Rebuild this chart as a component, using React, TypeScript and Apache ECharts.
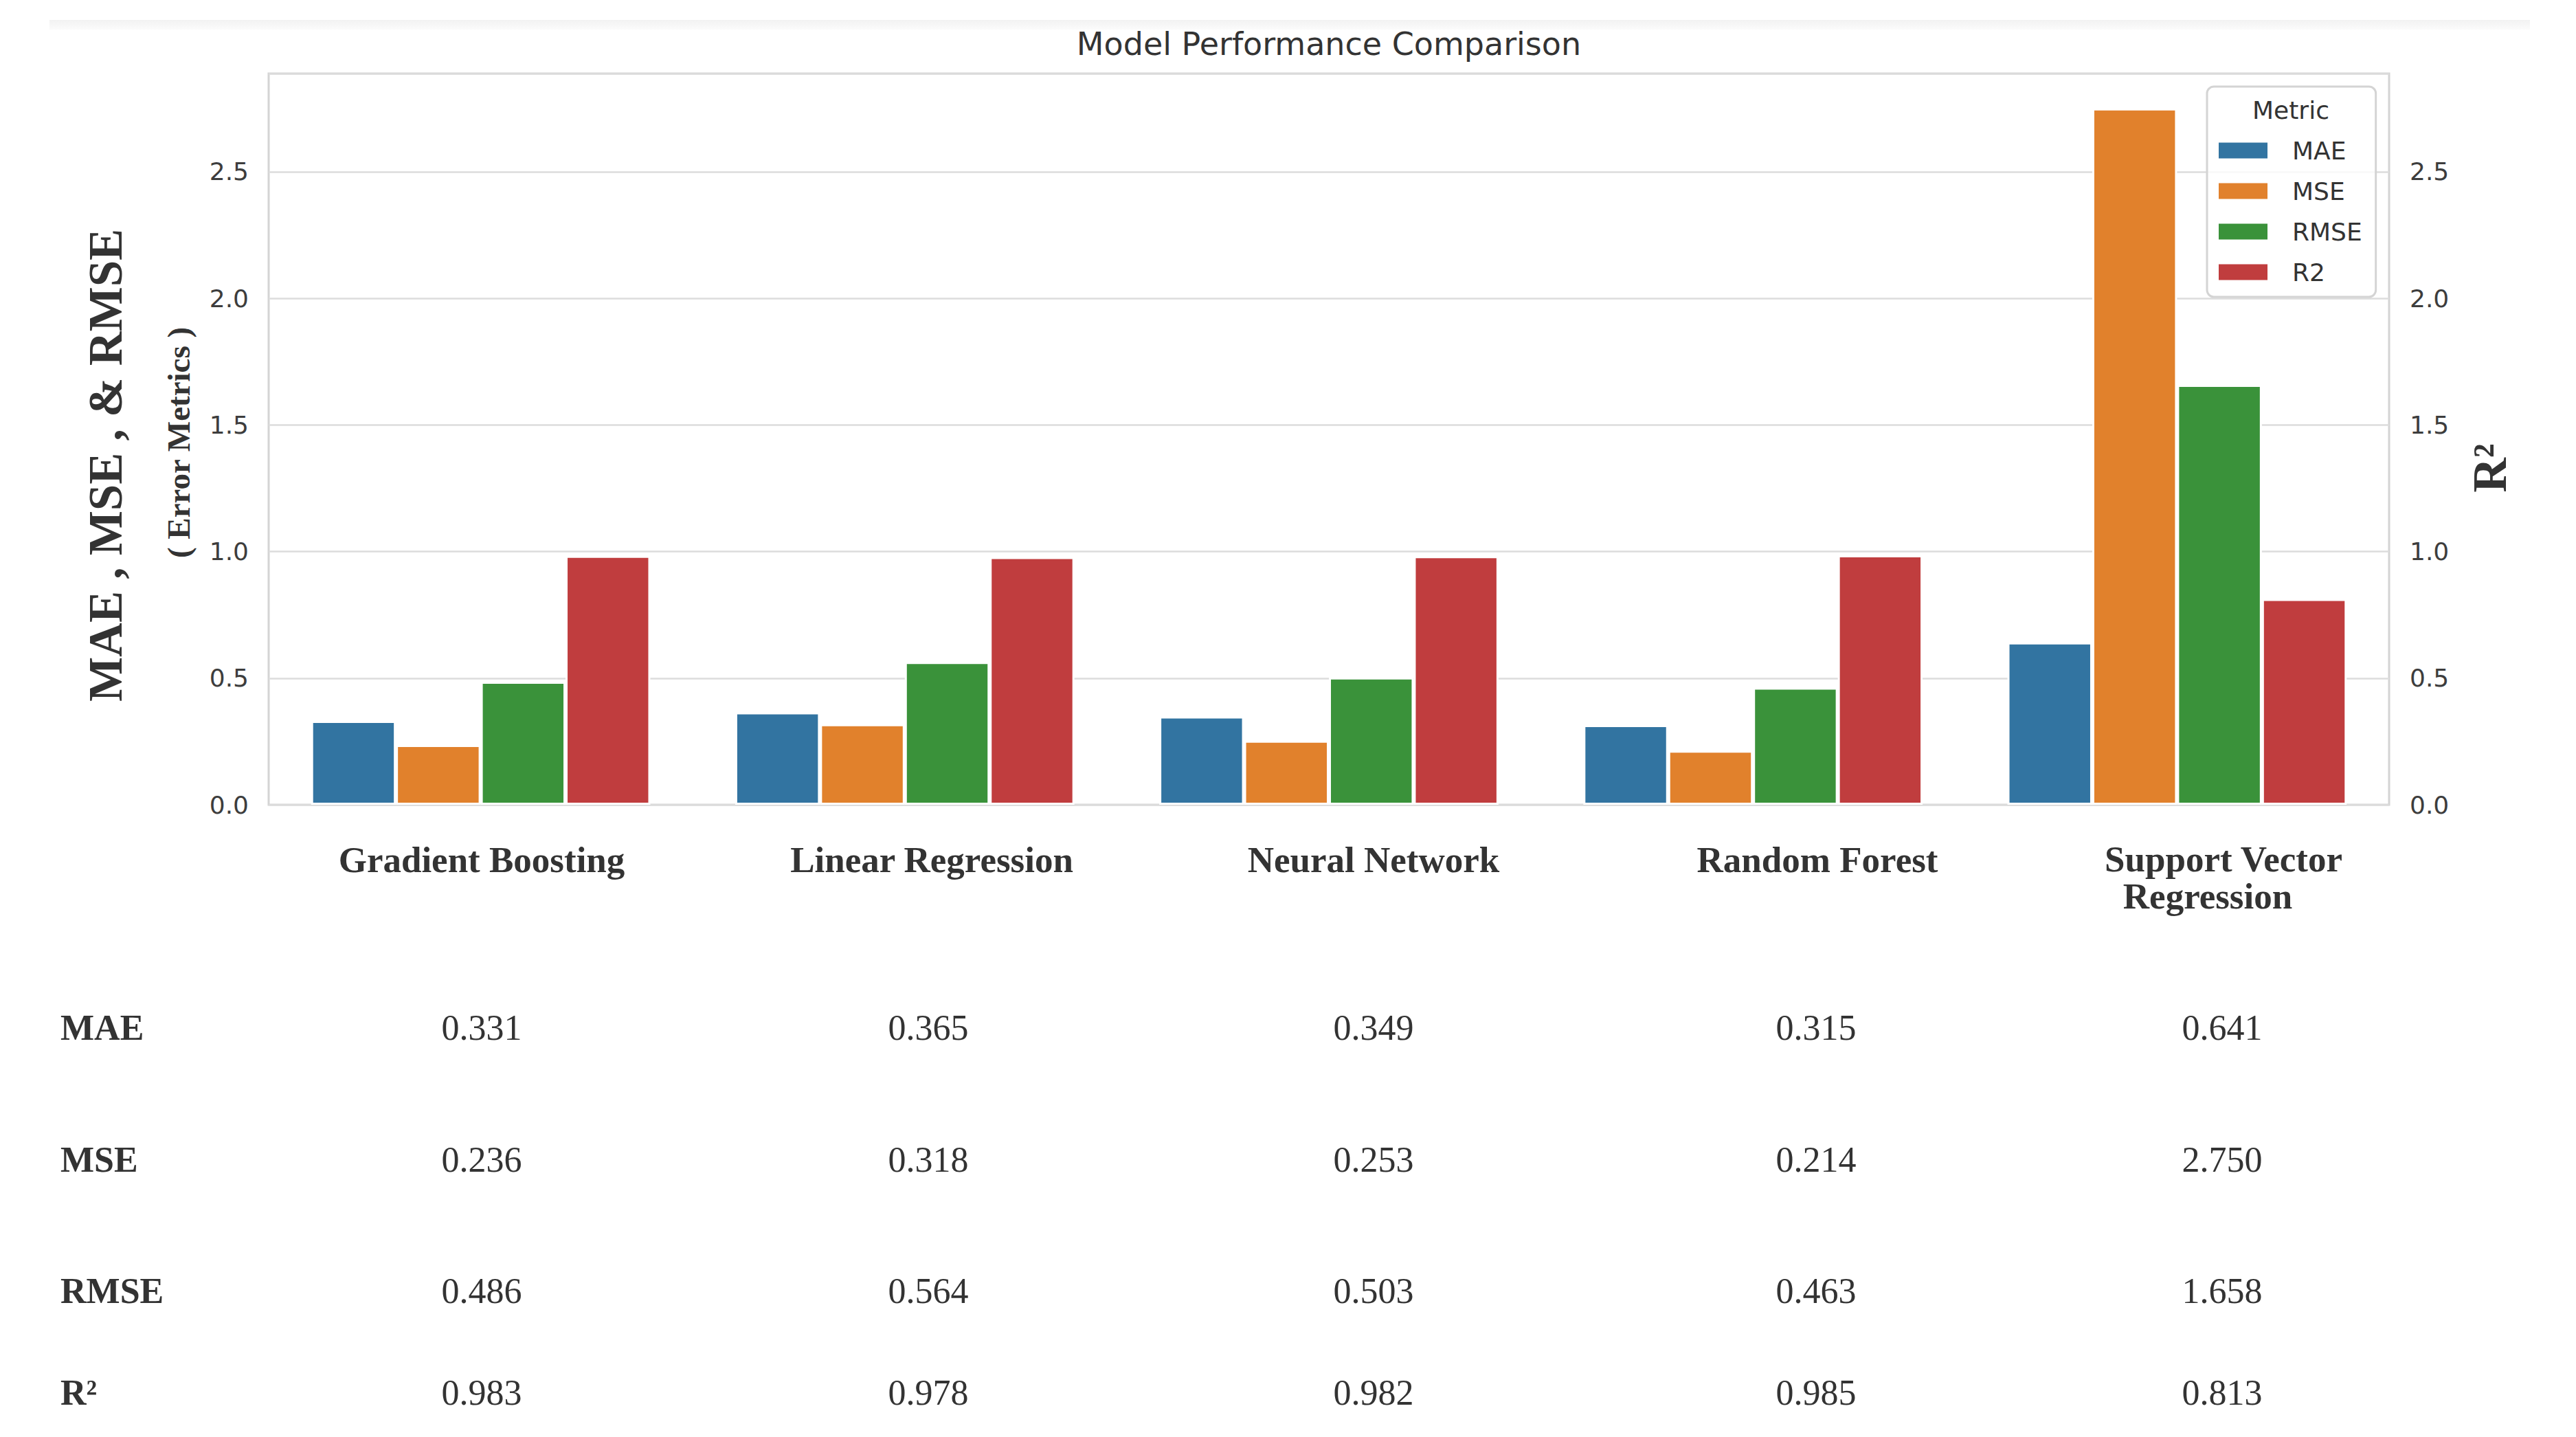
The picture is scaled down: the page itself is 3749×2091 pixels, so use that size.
import React, { useEffect, useRef } from 'react';
import * as echarts from 'echarts';

// ---------- data ----------
const categories = [
  'Gradient Boosting',
  'Linear Regression',
  'Neural Network',
  'Random Forest',
  'Support Vector Regression',
];
const metricNames = ['MAE', 'MSE', 'RMSE', 'R2'];
const maeValues = [0.331, 0.365, 0.349, 0.315, 0.641];
const mseValues = [0.236, 0.318, 0.253, 0.214, 2.75];
const rmseValues = [0.486, 0.564, 0.503, 0.463, 1.658];
const r2Values = [0.983, 0.978, 0.982, 0.985, 0.813];
const tableRowLabels = ['MAE', 'MSE', 'RMSE', 'R²'];
const yMax = 2.8875;
const yInterval = 0.5;

// ---------- styling / layout ----------
const colors = ['#3274a1', '#e1812c', '#3a923a', '#c03d3e'];
const TEXT = '#333333';
const SERIF = '"Liberation Serif", "Times New Roman", serif';
const SANS = '"DejaVu Sans", sans-serif';
const valueColX = [701, 1351, 1999, 2643, 3234];
const headerColX = [701, 1356, 1999, 2645, 3236];
const rowY = [1495, 1687, 1878, 2026];

export default function App() {
  const ref = useRef<HTMLDivElement>(null);

  useEffect(() => {
    document.body.style.margin = '0';
    document.body.style.overflow = 'hidden';
    const chart = echarts.init(ref.current!, null, { renderer: 'svg' });

    const seriesData = [maeValues, mseValues, rmseValues, r2Values];

    const tickFmt = (v: number) => {
      const k = v / yInterval;
      return Math.abs(k - Math.round(k)) < 1e-6 ? v.toFixed(1) : '';
    };

    const graphics: any[] = [];
    // faint top band
    graphics.push({
      type: 'rect',
      shape: { x: 72, y: 29, width: 3610, height: 14 },
      style: {
        fill: {
          type: 'linear', x: 0, y: 0, x2: 0, y2: 1,
          colorStops: [
            { offset: 0, color: '#f2f2f2' },
            { offset: 1, color: '#fbfbfb' },
          ],
        },
      },
      silent: true,
    });
    // title
    graphics.push({
      type: 'text', x: 1934, y: 64, z: 100,
      style: {
        text: 'Model Performance Comparison', fill: TEXT,
        font: `46px ${SANS}`, textAlign: 'center', textVerticalAlign: 'middle',
      },
    });
    // left axis titles
    graphics.push({
      type: 'text', x: 154, y: 677, rotation: Math.PI / 2, z: 100,
      style: {
        text: 'MAE , MSE , & RMSE', fill: TEXT,
        font: `bold 69px ${SERIF}`, textAlign: 'center', textVerticalAlign: 'middle',
      },
    });
    graphics.push({
      type: 'text', x: 260, y: 644, rotation: Math.PI / 2, z: 100,
      style: {
        text: '( Error Metrics )', fill: TEXT,
        font: `bold 47px ${SERIF}`, textAlign: 'center', textVerticalAlign: 'middle',
      },
    });
    // right axis title
    graphics.push({
      type: 'text', x: 3623, y: 681, rotation: Math.PI / 2, z: 100,
      style: {
        text: 'R²', fill: TEXT,
        font: `bold 70px ${SERIF}`, textAlign: 'center', textVerticalAlign: 'middle',
      },
    });
    // legend title
    graphics.push({
      type: 'text', x: 3334, y: 160, z: 100,
      style: {
        text: 'Metric', fill: TEXT,
        font: `36px ${SANS}`, textAlign: 'center', textVerticalAlign: 'middle',
      },
    });
    // header row (model names)
    categories.forEach((c, i) => {
      if (c === 'Support Vector Regression') {
        graphics.push({
          type: 'text', x: headerColX[i], y: 1250, z: 100,
          style: { text: 'Support Vector', fill: TEXT, font: `bold 53px ${SERIF}`, textAlign: 'center', textVerticalAlign: 'middle' },
        });
        graphics.push({
          type: 'text', x: headerColX[i] - 23, y: 1304, z: 100,
          style: { text: 'Regression', fill: TEXT, font: `bold 53px ${SERIF}`, textAlign: 'center', textVerticalAlign: 'middle' },
        });
      } else {
        graphics.push({
          type: 'text', x: headerColX[i], y: 1251, z: 100,
          style: { text: c, fill: TEXT, font: `bold 53px ${SERIF}`, textAlign: 'center', textVerticalAlign: 'middle' },
        });
      }
    });
    // table rows
    tableRowLabels.forEach((lab, r) => {
      graphics.push({
        type: 'text', x: 88, y: rowY[r], z: 100,
        style: { text: lab, fill: TEXT, font: `bold 52px ${SERIF}`, textAlign: 'left', textVerticalAlign: 'middle' },
      });
      seriesData[r].forEach((v, i) => {
        graphics.push({
          type: 'text', x: valueColX[i], y: rowY[r], z: 100,
          style: { text: v.toFixed(3), fill: TEXT, font: `52px ${SERIF}`, textAlign: 'center', textVerticalAlign: 'middle' },
        });
      });
    });

    const option: any = {
      animation: false,
      backgroundColor: '#ffffff',
      grid: {
        left: 391, top: 107, width: 3086, height: 1064,
        show: true, borderColor: '#d4d4d4', borderWidth: 3, containLabel: false,
      },
      legend: {
        orient: 'vertical',
        left: 3212, top: 126,
        data: metricNames,
        icon: 'rect',
        itemWidth: 73, itemHeight: 25, itemGap: 23,
        padding: [75, 20, 18, 15],
        backgroundColor: 'rgba(255,255,255,0.8)',
        borderColor: '#d4d4d4', borderWidth: 3, borderRadius: 10,
        textStyle: { fontFamily: SANS, fontSize: 36, color: TEXT, lineHeight: 36, padding: [0, 0, 0, 30] },
        selectedMode: false,
      },
      xAxis: {
        type: 'category',
        data: categories,
        axisLine: { show: false },
        axisTick: { show: false },
        axisLabel: { show: false },
        splitLine: { show: false },
      },
      yAxis: [
        {
          type: 'value', min: 0, max: yMax, interval: yInterval, position: 'left',
          axisLine: { show: false }, axisTick: { show: false },
          axisLabel: { formatter: tickFmt, fontFamily: SANS, fontSize: 36, color: '#3d3d3d', margin: 29, showMaxLabel: false },
          splitLine: { show: true, lineStyle: { color: '#dcdcdc', width: 2.5 } },
        },
        {
          type: 'value', min: 0, max: yMax, interval: yInterval, position: 'right',
          axisLine: { show: false }, axisTick: { show: false },
          axisLabel: { formatter: tickFmt, fontFamily: SANS, fontSize: 36, color: '#3d3d3d', margin: 30, showMaxLabel: false },
          splitLine: { show: false },
        },
      ],
      series: metricNames.map((name, k) => ({
        name,
        type: 'bar',
        yAxisIndex: 0,
        data: seriesData[k],
        barCategoryGap: '20%',
        barGap: '0%',
        itemStyle: { color: colors[k], borderColor: '#ffffff', borderWidth: 3 },
        emphasis: { disabled: true },
      })),
      graphic: graphics,
    };

    chart.setOption(option);
    return () => chart.dispose();
  }, []);

  return (
    <div
      ref={ref}
      style={{ position: 'absolute', left: 0, top: 0, width: 3749, height: 2091, background: '#ffffff' }}
    />
  );
}
